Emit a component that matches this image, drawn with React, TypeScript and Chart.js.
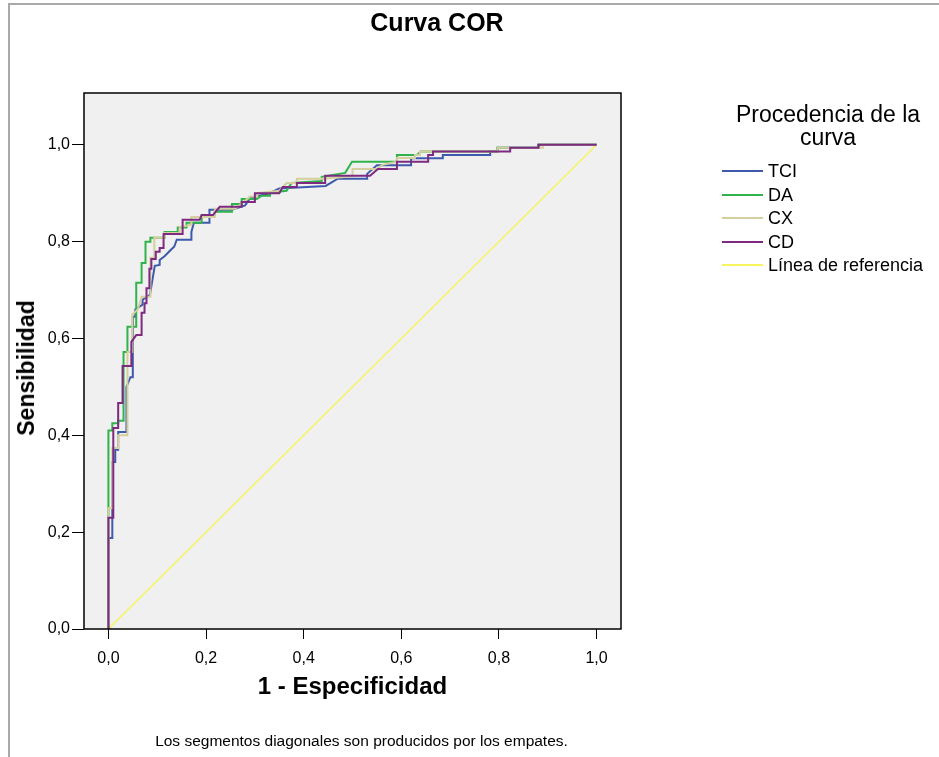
import React, { useEffect, useRef } from "react";
import { Chart, registerables } from "chart.js";
Chart.register(...registerables);

const FONT = '"Liberation Sans", Arial, sans-serif';

const xTicks = [0, 0.2, 0.4, 0.6, 0.8, 1.0];
const yTicks = [0, 0.2, 0.4, 0.6, 0.8, 1.0];

const tciX = [0, 0, 0.008, 0.008, 0.014, 0.014, 0.02, 0.02, 0.037, 0.037, 0.045, 0.05, 0.05, 0.055, 0.055, 0.07, 0.07, 0.085, 0.09, 0.095, 0.105, 0.105, 0.115, 0.125, 0.135, 0.14, 0.17, 0.17, 0.175, 0.207, 0.207, 0.253, 0.28, 0.29, 0.33, 0.35, 0.445, 0.47, 0.53, 0.53, 0.55, 0.62, 0.62, 0.685, 0.685, 0.782, 0.782, 0.797, 0.797, 0.881, 0.881, 1];
const tciY = [0, 0.188, 0.188, 0.345, 0.345, 0.37, 0.37, 0.407, 0.407, 0.5, 0.52, 0.52, 0.645, 0.645, 0.66, 0.67, 0.68, 0.69, 0.72, 0.75, 0.752, 0.762, 0.77, 0.78, 0.79, 0.804, 0.804, 0.82, 0.839, 0.839, 0.866, 0.866, 0.875, 0.89, 0.9, 0.91, 0.915, 0.93, 0.93, 0.94, 0.958, 0.958, 0.972, 0.972, 0.979, 0.979, 0.986, 0.986, 0.994, 0.994, 1, 1];

const daX = [0, 0, 0.008, 0.008, 0.02, 0.02, 0.031, 0.031, 0.039, 0.039, 0.057, 0.057, 0.068, 0.068, 0.076, 0.076, 0.086, 0.086, 0.115, 0.115, 0.142, 0.142, 0.16, 0.16, 0.191, 0.191, 0.218, 0.218, 0.253, 0.253, 0.273, 0.273, 0.304, 0.314, 0.331, 0.331, 0.365, 0.375, 0.437, 0.437, 0.485, 0.499, 0.591, 0.591, 0.632, 0.64, 0.797, 0.797, 0.881, 0.881, 1];
const daY = [0, 0.41, 0.41, 0.425, 0.425, 0.43, 0.43, 0.572, 0.572, 0.624, 0.624, 0.715, 0.715, 0.756, 0.756, 0.8, 0.8, 0.808, 0.808, 0.82, 0.82, 0.829, 0.829, 0.839, 0.839, 0.855, 0.855, 0.862, 0.862, 0.878, 0.878, 0.888, 0.888, 0.895, 0.895, 0.901, 0.905, 0.921, 0.925, 0.934, 0.942, 0.965, 0.965, 0.979, 0.979, 0.986, 0.986, 0.994, 0.994, 1, 1];

const cxX = [0, 0, 0.008, 0.008, 0.02, 0.02, 0.039, 0.039, 0.049, 0.049, 0.06, 0.068, 0.086, 0.086, 0.094, 0.094, 0.115, 0.115, 0.146, 0.146, 0.17, 0.17, 0.218, 0.218, 0.26, 0.29, 0.305, 0.305, 0.35, 0.365, 0.386, 0.386, 0.44, 0.5, 0.5, 0.55, 0.56, 0.59, 0.591, 0.628, 0.628, 0.638, 0.638, 0.797, 0.797, 0.89, 0.89, 1];
const cxY = [0, 0.25, 0.25, 0.374, 0.374, 0.4, 0.4, 0.572, 0.572, 0.649, 0.66, 0.686, 0.686, 0.767, 0.767, 0.808, 0.808, 0.818, 0.818, 0.83, 0.835, 0.851, 0.851, 0.868, 0.868, 0.893, 0.893, 0.9, 0.905, 0.921, 0.921, 0.93, 0.93, 0.935, 0.95, 0.95, 0.958, 0.965, 0.973, 0.973, 0.979, 0.979, 0.986, 0.986, 0.994, 0.994, 1, 1];

const cdX = [0, 0, 0.01, 0.01, 0.02, 0.02, 0.029, 0.029, 0.047, 0.047, 0.057, 0.068, 0.068, 0.074, 0.074, 0.078, 0.078, 0.084, 0.084, 0.088, 0.088, 0.097, 0.097, 0.105, 0.105, 0.113, 0.113, 0.152, 0.152, 0.187, 0.191, 0.214, 0.228, 0.273, 0.273, 0.3, 0.3, 0.35, 0.357, 0.386, 0.386, 0.444, 0.444, 0.536, 0.552, 0.591, 0.591, 0.655, 0.655, 0.665, 0.665, 0.823, 0.823, 0.881, 0.881, 1];
const cdY = [0, 0.23, 0.23, 0.415, 0.415, 0.467, 0.467, 0.543, 0.543, 0.593, 0.607, 0.607, 0.653, 0.653, 0.673, 0.673, 0.704, 0.704, 0.744, 0.744, 0.764, 0.764, 0.779, 0.779, 0.787, 0.787, 0.816, 0.816, 0.845, 0.845, 0.855, 0.855, 0.872, 0.872, 0.882, 0.882, 0.9, 0.9, 0.913, 0.913, 0.921, 0.921, 0.936, 0.936, 0.95, 0.95, 0.965, 0.965, 0.979, 0.979, 0.986, 0.986, 0.994, 0.994, 1, 1];

const refX = [0, 1];
const refY = [0, 1];

const seriesNames = ["TCI", "DA", "CX", "CD", "Línea de referencia"];
const seriesColors = ["#3d5aae", "#2fb34a", "#d4cf9c", "#7d2a80", "#f6f55e"];

const fmt = (v: number) => v.toFixed(1).replace(".", ",");

const pts = (xs: number[], ys: number[]) => xs.map((x, i) => ({ x, y: ys[i] }));

const plotBox = {
  id: "plotBox",
  beforeDraw(chart: any) {
    const { ctx, chartArea } = chart;
    const { left, top, right, bottom } = chartArea;
    ctx.save();
    ctx.fillStyle = "#f0f0f0";
    ctx.fillRect(left, top, right - left, bottom - top);
    ctx.restore();
  },
  afterDatasetsDraw(chart: any) {
    const { ctx, chartArea } = chart;
    const { left, top, right, bottom } = chartArea;
    ctx.save();
    ctx.strokeStyle = "#000";
    ctx.lineWidth = 1.5;
    ctx.strokeRect(left, top, right - left, bottom - top);
    ctx.restore();
  },
};

export default function App() {
  const ref = useRef<HTMLCanvasElement | null>(null);

  useEffect(() => {
    if (!ref.current) return;
    const mk = (i: number, xs: number[], ys: number[], order: number, w = 2) => ({
      label: seriesNames[i],
      data: pts(xs, ys),
      borderColor: seriesColors[i],
      backgroundColor: seriesColors[i],
      borderWidth: w,
      pointRadius: 0,
      showLine: true,
      fill: false,
      tension: 0,
      order,
    });
    const chart = new Chart(ref.current, {
      type: "scatter",
      data: {
        datasets: [
          mk(0, tciX, tciY, 4),
          mk(1, daX, daY, 3),
          mk(2, cxX, cxY, 2),
          mk(3, cdX, cdY, 1),
          mk(4, refX, refY, 5, 1.5),
        ],
      },
      options: {
        animation: false,
        responsive: false,
        devicePixelRatio: 1,
        layout: { padding: { left: 14, top: 93, right: 318, bottom: 55 } },
        plugins: { legend: { display: false }, tooltip: { enabled: false }, title: { display: false } },
        scales: {
          x: {
            type: "linear",
            min: -0.05,
            max: 1.05,
            afterBuildTicks: (s: any) => {
              s.ticks = xTicks.map((v) => ({ value: v }));
            },
            afterFit: (s: any) => {
              s.height = 73;
            },
            grid: { display: true, drawOnChartArea: false, drawTicks: true, tickLength: 10, color: "#000", tickColor: "#000", tickWidth: 1 },
            border: { display: false },
            ticks: { color: "#000", font: { family: FONT, size: 16 }, padding: 10, autoSkip: false, maxRotation: 0, callback: (v: any) => fmt(Number(v)) },
            title: { display: true, text: "1 - Especificidad", color: "#000", font: { family: FONT, size: 24, weight: "bold" }, padding: 0 },
          },
          y: {
            type: "linear",
            min: 0,
            max: 1.107,
            afterBuildTicks: (s: any) => {
              s.ticks = yTicks.map((v) => ({ value: v }));
            },
            afterFit: (s: any) => {
              s.width = 70;
            },
            grid: { display: true, drawOnChartArea: false, drawTicks: true, tickLength: 12, color: "#000", tickColor: "#000", tickWidth: 1 },
            border: { display: false },
            ticks: { color: "#000", font: { family: FONT, size: 16 }, padding: 2, autoSkip: false, callback: (v: any) => fmt(Number(v)) },
            title: { display: false },
          },
        },
      },
      plugins: [plotBox],
    } as any);
    return () => chart.destroy();
  }, []);

  return (
    <div style={{ position: "fixed", left: 0, top: 0, width: 939, height: 757, background: "#fff", overflow: "hidden", fontFamily: FONT, color: "#000" }}>
      <div style={{ position: "absolute", left: 8, top: 3, width: 2000, height: 2000, border: "2px solid #a9a9a9" }} />
      <canvas ref={ref} width={939} height={757} style={{ position: "absolute", left: 0, top: 0, width: 939, height: 757 }} />
      <div style={{ position: "absolute", left: 0, top: 8, width: 874, textAlign: "center", fontWeight: "bold", fontSize: 25, lineHeight: "28px" }}>Curva COR</div>
      <div
        style={{
          position: "absolute",
          left: 26,
          top: 368,
          transform: "translate(-50%, -50%) rotate(-90deg)",
          fontWeight: "bold",
          fontSize: 23,
          lineHeight: "26px",
          whiteSpace: "nowrap",
        }}
      >
        Sensibilidad
      </div>
      <div style={{ position: "absolute", left: 678, top: 103, width: 300, textAlign: "center", fontSize: 23, lineHeight: "23px" }}>
        Procedencia de la
        <br />
        curva
      </div>
      {seriesNames.map((n, i) => (
        <React.Fragment key={n}>
          <div style={{ position: "absolute", left: 722, top: 170 + 23.5 * i, width: 41, height: 2, background: seriesColors[i] }} />
          <div style={{ position: "absolute", left: 768, top: 161 + 23.5 * i, fontSize: 18, lineHeight: "20px", whiteSpace: "nowrap" }}>{n}</div>
        </React.Fragment>
      ))}
      <div style={{ position: "absolute", left: 0, top: 731, width: 723, textAlign: "center", fontSize: 15.5, lineHeight: "20px" }}>
        Los segmentos diagonales son producidos por los empates.
      </div>
    </div>
  );
}
